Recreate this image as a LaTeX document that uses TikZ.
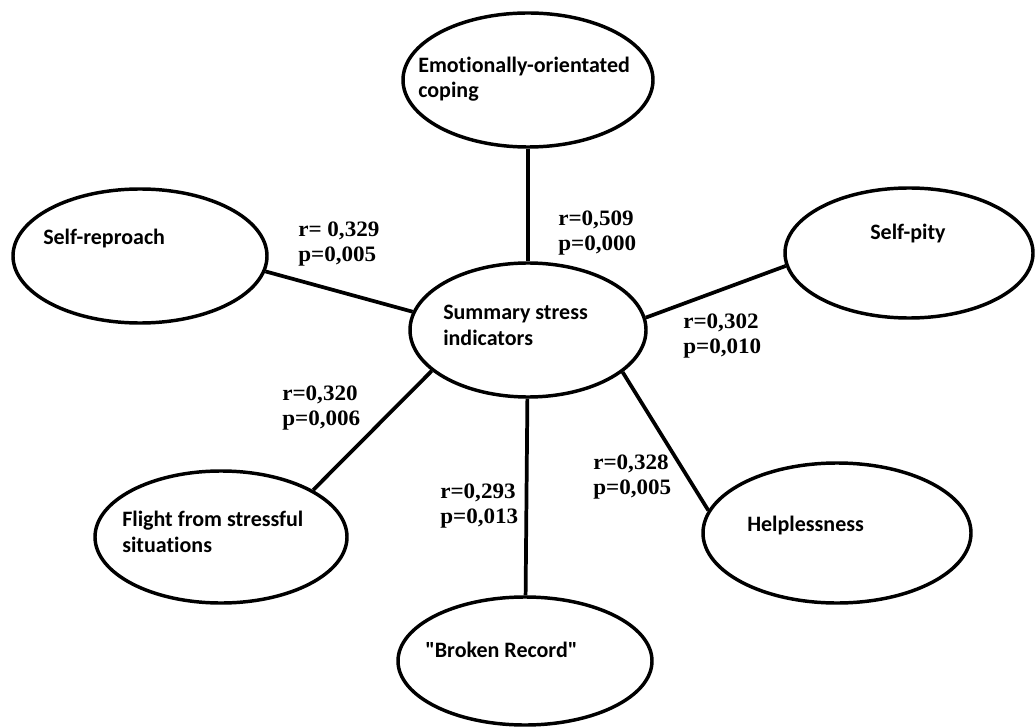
\documentclass[tikz,border=0pt]{standalone}
\usepackage{fontspec}
\setmainfont[Ligatures={TeXOff,NoCommon}]{Carlito}
\newfontfamily\statfont[FakeStretch=1.05]{Liberation Serif}
\usetikzlibrary{shapes.geometric}

\begin{document}
\begin{tikzpicture}[x=0.75pt, y=-0.75pt,
  ell/.style 2 args={ellipse, draw, line width=2.6pt, inner sep=0pt,
                     minimum width=#1*1.5pt, minimum height=#2*1.5pt},
  lab/.style={anchor=base west, align=left, inner sep=0pt,
              font=\fontsize{16.5}{19}\selectfont\bfseries},
  stat/.style={anchor=base west, align=left, inner sep=0pt,
               font=\statfont\fontsize{16.5}{18.75}\selectfont\bfseries},
  con/.style={line width=2.8pt}]

\useasboundingbox (0,0) rectangle (1035,727);

% ellipses (half axes in px)
\node[ell={125}{67}] (emo)    at (528,80)  {};
\node[ell={118}{67}] (sum)    at (528,330) {};
\node[ell={127}{67}] (rep)    at (140,256) {};
\node[ell={124}{65}] (pity)   at (909,253) {};
\node[ell={126}{66}] (flight) at (221,537) {};
\node[ell={127}{64}] (rec)    at (525,661) {};
\node[ell={134}{70}] (help)   at (837,533) {};

% texts inside the ellipses (base = last line)
\node[lab] (emo-t)    at (418,98)  {Emotionally-orientated\\coping};
\node[lab] (sum-t)    at (443,345) {Summary stress\\indicators};
\node[lab] (rep-t)    at (43,245)  {Self-reproach};
\node[lab] (pity-t)   at (870,240) {Self-pity};
\node[lab] (flight-t) at (122,552) {Flight from stressful\\situations};
\node[lab] (rec-t)    at (425,657) {"Broken Record"};
\node[lab] (help-t)   at (747,531) {Helplessness};

% connectors
\draw[con] (emo) -- (sum);
\draw[con] (sum.171) -- (rep.-7);
\draw[con] (sum.6) -- (pity.186);
\draw[con] (sum.203) -- (flight.27);
\draw[con] (sum) -- (rec);
\draw[con] (sum.336) -- (help.170);

% correlations
\node[stat] (st-rep)    at (298,262) {r= 0,329\\p=0,005};
\node[stat] (st-emo)    at (558,251) {r=0,509\\p=0,000};
\node[stat] (st-pity)   at (683,353) {r=0,302\\p=0,010};
\node[stat] (st-flight) at (282,425) {r=0,320\\p=0,006};
\node[stat] (st-rec)    at (440,523) {r=0,293\\p=0,013};
\node[stat] (st-help)   at (593,494) {r=0,328\\p=0,005};
\end{tikzpicture}
\end{document}
